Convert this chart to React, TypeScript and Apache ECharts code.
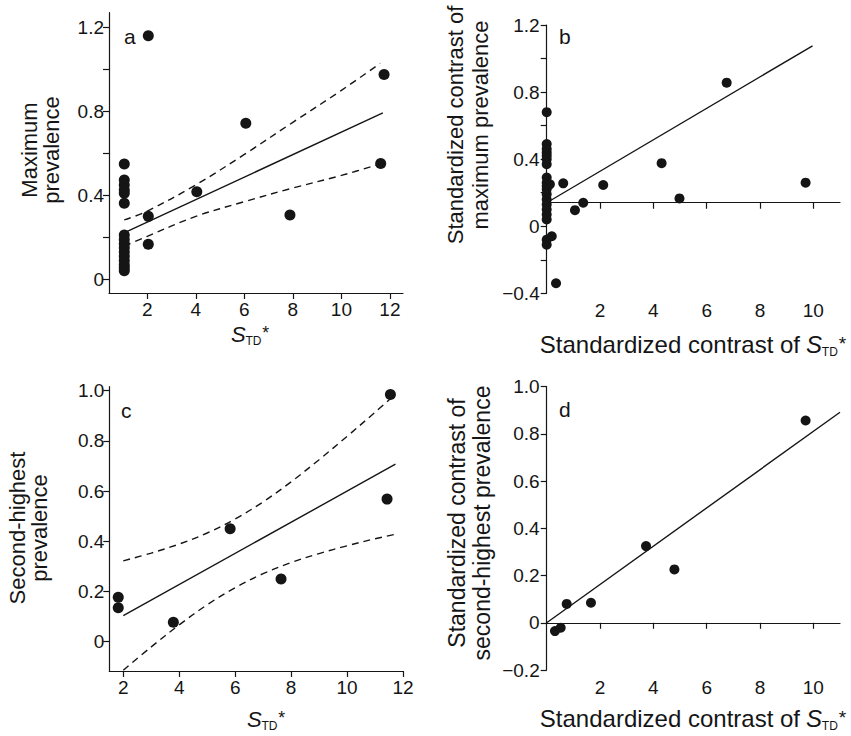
import React, { useEffect, useRef } from 'react';
import * as echarts from 'echarts';

const FONT = "'Liberation Sans', Arial, Helvetica, sans-serif";
const INK = '#151515';

// ---------- Panel a : maximum prevalence vs S_TD* ----------
const aX = [1.05, 1.05, 1.05, 1.05, 1.05, 1.05, 1.05, 1.05, 1.05, 1.05, 1.05, 1.05, 1.05, 1.05, 1.05, 1.05, 2.04, 11.76, 6.06, 11.62, 4.04, 7.88, 2.04, 2.04];
const aY = [0.549, 0.473, 0.449, 0.425, 0.41, 0.362, 0.211, 0.19, 0.17, 0.15, 0.13, 0.11, 0.09, 0.07, 0.055, 0.041, 1.16, 0.976, 0.743, 0.552, 0.417, 0.306, 0.3, 0.167];
const aRegX = [1.15, 11.71];
const aRegY = [0.227, 0.793];
const aBandX = [1.05, 2, 4, 6, 8, 10, 11.6];
const aUpper = [0.283, 0.325, 0.45, 0.595, 0.748, 0.9, 1.029];
const aLower = [0.158, 0.205, 0.3, 0.37, 0.435, 0.495, 0.55];
const aXTicks = [2, 4, 6, 8, 10, 12];
const aYTicks = [0, 0.2, 0.4, 0.6, 0.8, 1.0, 1.2];
const aYLabels = [0, 0.4, 0.8, 1.2];

// ---------- Panel b : standardized contrasts, maximum prevalence ----------
const bX = [0, 0, 0, 0, 0, 0, 0, 0, 0, 0, 0, 0.62, 0.12, 0, 0, 0, 1.37, 1.06, 2.12, 0, 0, 0, 0, 0, 0.19, 0.35, 6.75, 4.31, 9.71, 4.98];
const bY = [0.68, 0.49, 0.46, 0.44, 0.42, 0.4, 0.37, 0.29, 0.26, 0.24, 0.22, 0.256, 0.25, 0.19, 0.16, 0.13, 0.14, 0.096, 0.246, 0.1, 0.07, 0.04, -0.08, -0.11, -0.06, -0.34, 0.856, 0.376, 0.26, 0.166];
const bRegX = [0, 9.97];
const bRegY = [0.14, 1.076];
const bAxisCross = 0.14; // height at which the x axis is drawn
const bXTicks = [2, 4, 6, 8, 10];
const bYTicks = [-0.4, -0.2, 0, 0.2, 0.4, 0.6, 0.8, 1.0, 1.2];
const bYLabels = [-0.4, 0, 0.4, 0.8, 1.2];

// ---------- Panel c : second-highest prevalence vs S_TD* ----------
const cX = [1.82, 1.82, 3.79, 5.82, 7.64, 11.43, 11.55];
const cY = [0.177, 0.135, 0.077, 0.45, 0.25, 0.568, 0.985];
const cRegX = [2, 11.73];
const cRegY = [0.104, 0.707];
const cBandX = [2, 3, 4, 5, 6, 7, 8, 9, 10, 11, 11.7];
const cUpper = [0.322, 0.353, 0.389, 0.433, 0.489, 0.557, 0.637, 0.725, 0.818, 0.914, 0.983];
const cLower = [-0.114, -0.021, 0.067, 0.147, 0.215, 0.271, 0.315, 0.351, 0.382, 0.41, 0.427];
const cXTicks = [2, 4, 6, 8, 10, 12];
const cYTicks = [0, 0.2, 0.4, 0.6, 0.8, 1.0];

// ---------- Panel d : standardized contrasts, second-highest prevalence ----------
const dX = [9.71, 3.725, 4.79, 1.66, 0.75, 0.31, 0.525];
const dY = [0.857, 0.325, 0.226, 0.085, 0.08, -0.035, -0.021];
const dRegX = [0, 11];
const dRegY = [0, 0.892];
const dXTicks = [2, 4, 6, 8, 10];
const dYTicks = [-0.2, 0, 0.2, 0.4, 0.6, 0.8, 1.0];

const zip = (xs: number[], ys: number[]) => xs.map((x, i) => [x, ys[i]]);

const fmtY = (v: number) => {
  if (Math.abs(v) < 1e-9) return '0';
  return (v < 0 ? '\u2212' : '') + Math.abs(v).toFixed(1);
};
const fmtX = (v: number) => String(Math.round(v));

function axis(gridIndex: number, min: number, max: number, ticks: number[], labels: number[], fmt: (v: number) => string, extra: any = {}) {
  return {
    type: 'value',
    gridIndex,
    min,
    max,
    splitLine: { show: false },
    axisLine: { show: true, onZero: false, lineStyle: { color: INK, width: 1.2 }, ...(extra.axisLine || {}) },
    axisTick: { show: true, customValues: ticks, length: 6, lineStyle: { color: INK, width: 1.2 } },
    axisLabel: {
      show: true,
      customValues: labels,
      formatter: fmt,
      color: INK,
      fontSize: 19,
      fontFamily: FONT,
      margin: extra.margin ?? 5,
    },
  };
}

function scatter(xi: number, yi: number, xs: number[], ys: number[], size: number) {
  return {
    type: 'scatter',
    xAxisIndex: xi,
    yAxisIndex: yi,
    data: zip(xs, ys),
    symbol: 'circle',
    symbolSize: size,
    itemStyle: { color: INK, opacity: 1 },
    z: 5,
  };
}

function line(xi: number, yi: number, xs: number[], ys: number[], dashed: boolean) {
  return {
    type: 'line',
    xAxisIndex: xi,
    yAxisIndex: yi,
    data: zip(xs, ys),
    showSymbol: false,
    symbol: 'none',
    smooth: dashed ? 0.35 : false,
    lineStyle: { color: INK, width: 1.4, type: dashed ? [7, 5] : 'solid' },
    z: 3,
  };
}

function txt(x: number, y: number, text: string, size: number, opts: any = {}) {
  return {
    type: 'text',
    x,
    y,
    rotation: opts.rotation || 0,
    style: {
      text,
      fontSize: size,
      fontFamily: FONT,
      fontStyle: opts.italic ? 'italic' : 'normal',
      fill: INK,
      align: opts.align || 'left',
      verticalAlign: 'middle',
      lineHeight: opts.lineHeight,
    },
  };
}

function stdTitle(xS: number, yMid: number, sSize: number, subSize: number, prefix?: string, prefixSize?: number) {
  const els: any[] = [];
  if (prefix) els.push(txt(xS - 6, yMid, prefix, prefixSize || sSize, { align: 'right' }));
  els.push(txt(xS, yMid, 'S', sSize, { italic: true }));
  els.push(txt(xS + sSize * 0.66, yMid + sSize * 0.32, 'TD', subSize));
  els.push(txt(xS + sSize * 0.66 + subSize * 1.4, yMid - 1, '*', sSize * 0.8));
  return els;
}

export default function App() {
  const ref = useRef<HTMLDivElement>(null);

  useEffect(() => {
    if (!ref.current) return;
    const chart = echarts.init(ref.current, undefined, { renderer: 'svg' });
    const option: any = {
      animation: false,
      backgroundColor: '#ffffff',
      grid: [
        { left: 109, top: 12.7, width: 294, height: 280.3 },
        { left: 546.7, top: 25, width: 293.3, height: 268.3 },
        { left: 109.3, top: 386.7, width: 293.7, height: 284.3 },
        { left: 546.7, top: 386.7, width: 293.3, height: 283.3 },
      ],
      xAxis: [
        axis(0, 0.42, 12.54, aXTicks, aXTicks, fmtX, { margin: 7 }),
        axis(1, 0, 11, bXTicks, bXTicks, fmtX, { margin: 8, axisLine: { onZero: true, onZeroAxisIndex: 2 } }),
        axis(2, 1.5, 12, cXTicks, cXTicks, fmtX, { margin: 7 }),
        axis(3, 0, 11, dXTicks, dXTicks, fmtX, { margin: 8, axisLine: { onZero: true } }),
      ],
      yAxis: [
        axis(0, -0.065, 1.27, aYTicks, aYLabels, fmtY),
        axis(1, -0.4, 1.2, bYTicks, bYLabels, fmtY, { margin: 7 }),
        { type: 'value', gridIndex: 1, min: -0.4 - bAxisCross, max: 1.2 - bAxisCross, show: false },
        axis(2, -0.117, 1.016, cYTicks, cYTicks, fmtY),
        axis(3, -0.2, 1.0, dYTicks, dYTicks, fmtY, { margin: 7 }),
      ],
      series: [
        line(0, 0, aRegX, aRegY, false),
        line(0, 0, aBandX, aUpper, true),
        line(0, 0, aBandX, aLower, true),
        scatter(0, 0, aX, aY, 11),

        line(1, 1, bRegX, bRegY, false),
        scatter(1, 1, bX, bY, 10),

        line(2, 3, cRegX, cRegY, false),
        line(2, 3, cBandX, cUpper, true),
        line(2, 3, cBandX, cLower, true),
        scatter(2, 3, cX, cY, 11),

        line(3, 4, dRegX, dRegY, false),
        scatter(3, 4, dX, dY, 10),
      ],
      graphic: [
        txt(124, 36, 'a', 21),
        txt(559, 36, 'b', 21),
        txt(121, 410, 'c', 21),
        txt(559, 409, 'd', 21),

        txt(40, 150, 'Maximum\nprevalence', 22, { rotation: Math.PI / 2, align: 'center', lineHeight: 22 }),
        txt(28, 528, 'Second-highest\nprevalence', 22, { rotation: Math.PI / 2, align: 'center', lineHeight: 22 }),
        txt(468, 125, 'Standardized contrast of\nmaximum prevalence', 22, { rotation: Math.PI / 2, align: 'center', lineHeight: 25 }),
        txt(469, 523, 'Standardized contrast of\nsecond-highest prevalence', 23, { rotation: Math.PI / 2, align: 'center', lineHeight: 25 }),

        ...stdTitle(231, 334, 22, 12),
        ...stdTitle(247, 719, 22, 12),
        ...stdTitle(806, 344, 24, 12, 'Standardized contrast of', 24),
        ...stdTitle(806, 718, 24, 12, 'Standardized contrast of', 24),
      ],
    };
    chart.setOption(option);
    return () => chart.dispose();
  }, []);

  return (
    <div
      ref={ref}
      style={{ position: 'fixed', left: 0, top: 0, width: 851, height: 736, background: '#fff' }}
    />
  );
}
